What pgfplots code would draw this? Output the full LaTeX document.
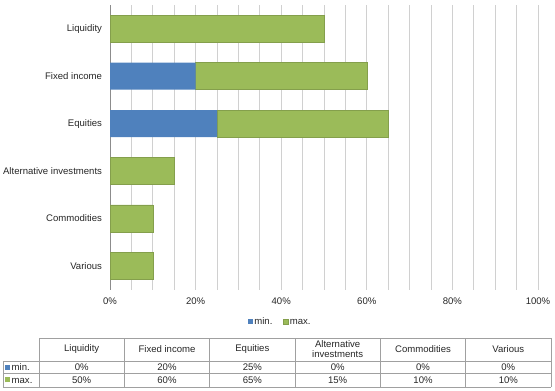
\documentclass[border=0pt]{standalone}
\usepackage{pgfplots}
\pgfplotsset{compat=1.18}
\usepackage{fontspec}
\setmainfont{Liberation Sans}
\definecolor{cmin}{HTML}{4F81BD}
\definecolor{cmax}{HTML}{9BBB59}
\definecolor{gridc}{HTML}{D0D0D0}
\definecolor{tabc}{HTML}{A0A0A0}
\definecolor{txt}{HTML}{262626}
\newcommand{\fs}{\fontsize{9.6}{10}\selectfont}
\begin{document}
\begin{tikzpicture}[x=1bp,y=1bp,font=\fs,text=txt]
\useasboundingbox (0,0) rectangle (555,390);
\begin{axis}[
  at={(110bp,100.5bp)}, anchor=south west,
  scale only axis, width=428bp, height=284.5bp,
  xbar stacked, bar width=27bp,
  xmin=0, xmax=100, ymin=-0.5, ymax=5.5, y dir=reverse,
  ytick={0,...,5},
  yticklabels={Liquidity,Fixed income,Equities,Alternative investments,Commodities,Various},
  xtick={0,20,...,100}, minor xtick={0,5,...,100},
  /pgf/number format/assume math mode=true,
  xticklabel={\pgfmathprintnumber{\tick}\%},
  xmajorgrids, xminorgrids,
  major grid style={gridc, line width=0.8bp},
  minor grid style={gridc, line width=0.8bp},
  axis line style={draw=none},
  major tick length=0pt, minor tick length=0pt,
  extra x ticks={0}, extra x tick labels={},
  extra x tick style={major grid style={gray!90, line width=0.8bp}},
  ticklabel style={font=\fs, text=txt},
  xticklabel style={yshift=-5bp},
  yticklabel style={xshift=-4.5bp},
  legend style={at={(0.396,-0.113)}, anchor=center, draw=none, fill=none,
    legend columns=2, font=\fs, text=txt, inner sep=0pt,
    nodes={inner sep=0.5bp, anchor=base},
    /tikz/every odd column/.append style={column sep=1bp},
    /tikz/every even column/.append style={column sep=10bp}},
  legend image code/.code={\fill[#1] (0bp,0.5bp) rectangle (5bp,5.5bp);},
]
\addplot[fill=cmin, draw=none] coordinates {(0,0) (20,1) (25,2) (0,3) (0,4) (0,5)};
\addplot[fill=cmax, draw=cmax!85!black, line width=0.5bp] coordinates {(50,0) (40,1) (40,2) (15,3) (10,4) (10,5)};
\legend{min., max.}
\end{axis}
% data table
\begin{scope}[draw=tabc, line width=0.8bp]
\draw (39,52) -- (551,52);
\draw (3,29) -- (551,29);
\draw (3,16.5) -- (551,16.5);
\draw (3,3) -- (551,3);
\draw (3,3) -- (3,29);
\foreach \x in {39,124.33,209.67,295,380.33,465.67,551} \draw (\x,3) -- (\x,52);
\end{scope}
\foreach \x/\h/\a/\b in {81.67/Liquidity/0/50, 167/Fixed income/20/60, 252.33/Equities/25/65, 337.67/{Alternative\\investments}/0/15, 423/Commodities/0/10, 508.33/Various/0/10}{
  \node[align=center, inner sep=0pt] at (\x,40.5) {\h};
  \node[inner sep=0pt] at (\x,22.75) {\a\%};
  \node[inner sep=0pt] at (\x,9.75) {\b\%};
}
\node[anchor=west, inner sep=0pt] at (5,22.75) {\textcolor{cmin}{\raisebox{0.8bp}{\rule{5bp}{5bp}}}\hspace{1.5bp}min.};
\node[anchor=west, inner sep=0pt] at (5,9.75) {\textcolor{cmax}{\raisebox{0.8bp}{\rule{5bp}{5bp}}}\hspace{1.5bp}max.};
\end{tikzpicture}
\end{document}
